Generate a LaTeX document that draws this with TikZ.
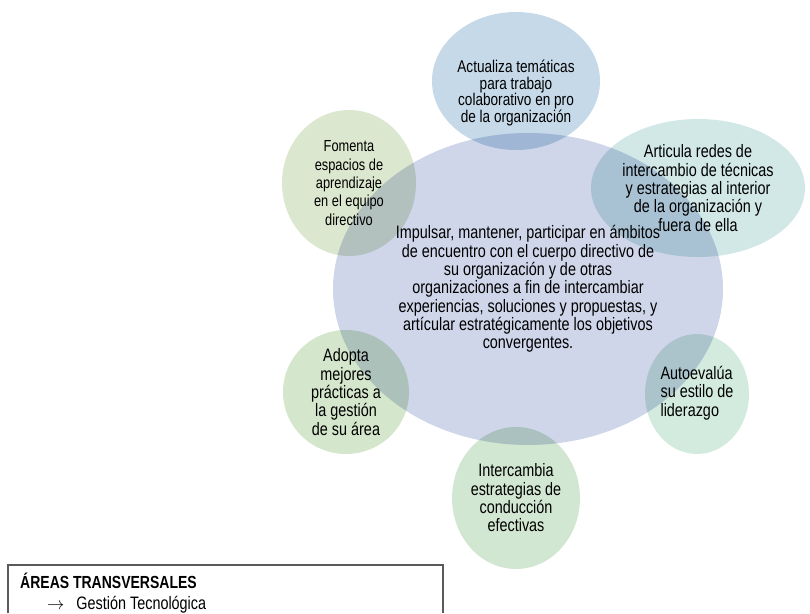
\documentclass[tikz,border=0pt]{standalone}
\usepackage{fontspec}
\setmainfont{Liberation Sans}[FakeStretch=0.8]
\usepackage{tikz}
\usetikzlibrary{shapes.geometric}
\definecolor{centro}{HTML}{CFD6EA}
\definecolor{celeste}{HTML}{C5D9E9}
\definecolor{turquesa}{HTML}{D1E8E6}
\definecolor{menta}{HTML}{D3EADF}
\definecolor{verde}{HTML}{D2E7D1}
\definecolor{pasto}{HTML}{D4E6CB}
\definecolor{oliva}{HTML}{DCE7CF}
\definecolor{marco}{HTML}{5A5A5A}
\tikzset{
  blob/.style={ellipse, inner sep=0pt, align=center, text=black},
  txt/.style={align=center, font=\fontsize{18}{18.3}\selectfont},
  txts/.style={font=\fontsize{16}{18.3}\selectfont},
  caja/.style={draw=marco, line width=1.4pt},
  lab/.style={anchor=base west, inner sep=0pt},
}

\begin{document}
\begin{tikzpicture}[x=1pt, y=-1pt]
  \useasboundingbox (0,0) rectangle (810,613);
  \begin{scope}[blend mode=multiply]
  \node[blob, txt, fill=centro, minimum width=390, minimum height=312] (centro) at (528,289)
    {Impulsar, mantener, participar en ámbitos\\ de encuentro con el cuerpo directivo de\\ su organización y de otras\\ organizaciones a fin de intercambiar\\ experiencias, soluciones y propuestas, y\\ artícular estratégicamente los objetivos\\ convergentes.};
  \node[blob, fill=celeste, minimum width=168, minimum height=138] (actualiza) at (516,81) {};
  \node[blob, txt, fill=turquesa, minimum width=206, minimum height=138] (articula) at (698,188)
    {Articula redes de\\ intercambio de técnicas\\ y estrategias al interior\\ de la organización y\\ fuera de ella};
  \node[blob, txt, fill=menta, minimum width=104, minimum height=120] (autoevalua) at (697,394)
    {\begin{tabular}{@{}l@{}}Autoevalúa\\ su estilo de\\ liderazgo\end{tabular}};
  \node[blob, txt, fill=verde, minimum width=114, minimum height=142] (intercambia) at (516,498)
    {Intercambia\\ estrategias de\\ conducción\\ efectivas};
  \node[blob, txt, fill=pasto, minimum width=126, minimum height=124] (adopta) at (346,392)
    {Adopta\\ mejores\\ prácticas a\\ la gestión\\ de su área};
  \node[blob, txts, fill=oliva, minimum width=134, minimum height=146] (fomenta) at (349,183)
    {Fomenta\\ espacios de\\ aprendizaje\\ en el equipo\\ directivo};
  \end{scope}
  \node[txt, font=\fontsize{17}{16.8}\selectfont, yshift=-12pt] (actualizaTxt) at (actualiza.center)
    {Actualiza temáticas\\ para trabajo\\ colaborativo en pro\\ de la organización};
  % recuadro inferior
  \draw[caja] (8,613) -- (8,565) -- (443,565) -- (443,613);
  \node[lab, font=\fontsize{17.5}{18}\selectfont\bfseries] (areas) at (20,588) {ÁREAS TRANSVERSALES};
  \node[lab, font=\fontsize{18}{18}\selectfont] (gestion) at (47,609) {$\rightarrow$\hspace{12pt}Gestión Tecnológica};
\end{tikzpicture}
\end{document}
